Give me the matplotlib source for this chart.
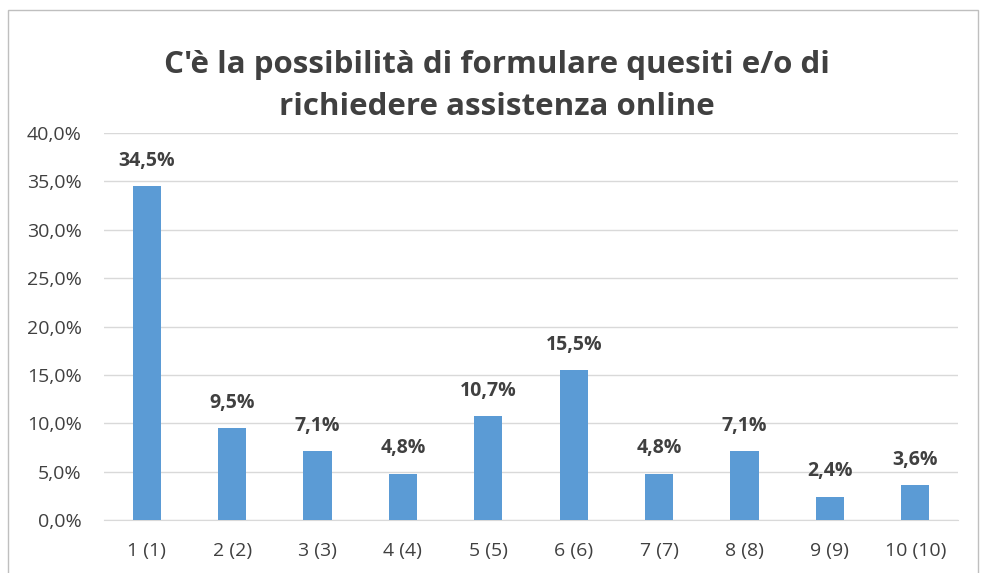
import matplotlib.pyplot as plt
from matplotlib.patches import Rectangle
from matplotlib.ticker import FuncFormatter

categories = ["1 (1)", "2 (2)", "3 (3)", "4 (4)", "5 (5)",
              "6 (6)", "7 (7)", "8 (8)", "9 (9)", "10 (10)"]
values = [34.5, 9.5, 7.1, 4.8, 10.7, 15.5, 4.8, 7.1, 2.4, 3.6]
title = "C'è la possibilità di formulare quesiti e/o di\nrichiedere assistenza online"

plt.rcParams["font.family"] = ["Open Sans", "DejaVu Sans"]
text_col = "#404040"

fig = plt.figure(figsize=(9.81, 5.73), dpi=100)
ax = fig.add_axes([104 / 981, 53 / 573, 854 / 981, 387 / 573])

x = range(len(categories))
ax.bar(x, values, width=0.33, color="#5B9BD5", zorder=3)

for i, v in enumerate(values):
    ax.text(i, v + 1.6, f"{v:.1f}%".replace(".", ","), ha="center", va="bottom",
            fontsize=14, fontweight="bold", color=text_col)

ax.set_xlim(-0.5, len(categories) - 0.5)
ax.set_ylim(0, 40)
ax.set_yticks(range(0, 41, 5))
ax.yaxis.set_major_formatter(FuncFormatter(lambda v, p: f"{v:.1f}%".replace(".", ",")))
ax.set_xticks(list(x))
ax.set_xticklabels(categories)
ax.tick_params(axis="both", length=0, labelsize=14, colors=text_col)
ax.tick_params(axis="x", pad=16)
ax.tick_params(axis="y", pad=16)
ax.grid(axis="y", color="#D9D9D9", linewidth=1, zorder=0)
for s in ["top", "right", "left"]:
    ax.spines[s].set_visible(False)
ax.spines["bottom"].set_color("#D9D9D9")

fig.text(497 / 981, 1 - 86 / 573, title, ha="center", va="center",
         fontsize=22.5, fontweight="bold", color=text_col, linespacing=1.5)

# chart border (partly cropped in the original)
fig.patches.append(Rectangle((8 / 981, -0.1), 970 / 981, 1 - 10 / 573 + 0.1,
                             transform=fig.transFigure, fill=False,
                             edgecolor="#BFBFBF", linewidth=1))

fig.savefig("out.png", dpi=100)
